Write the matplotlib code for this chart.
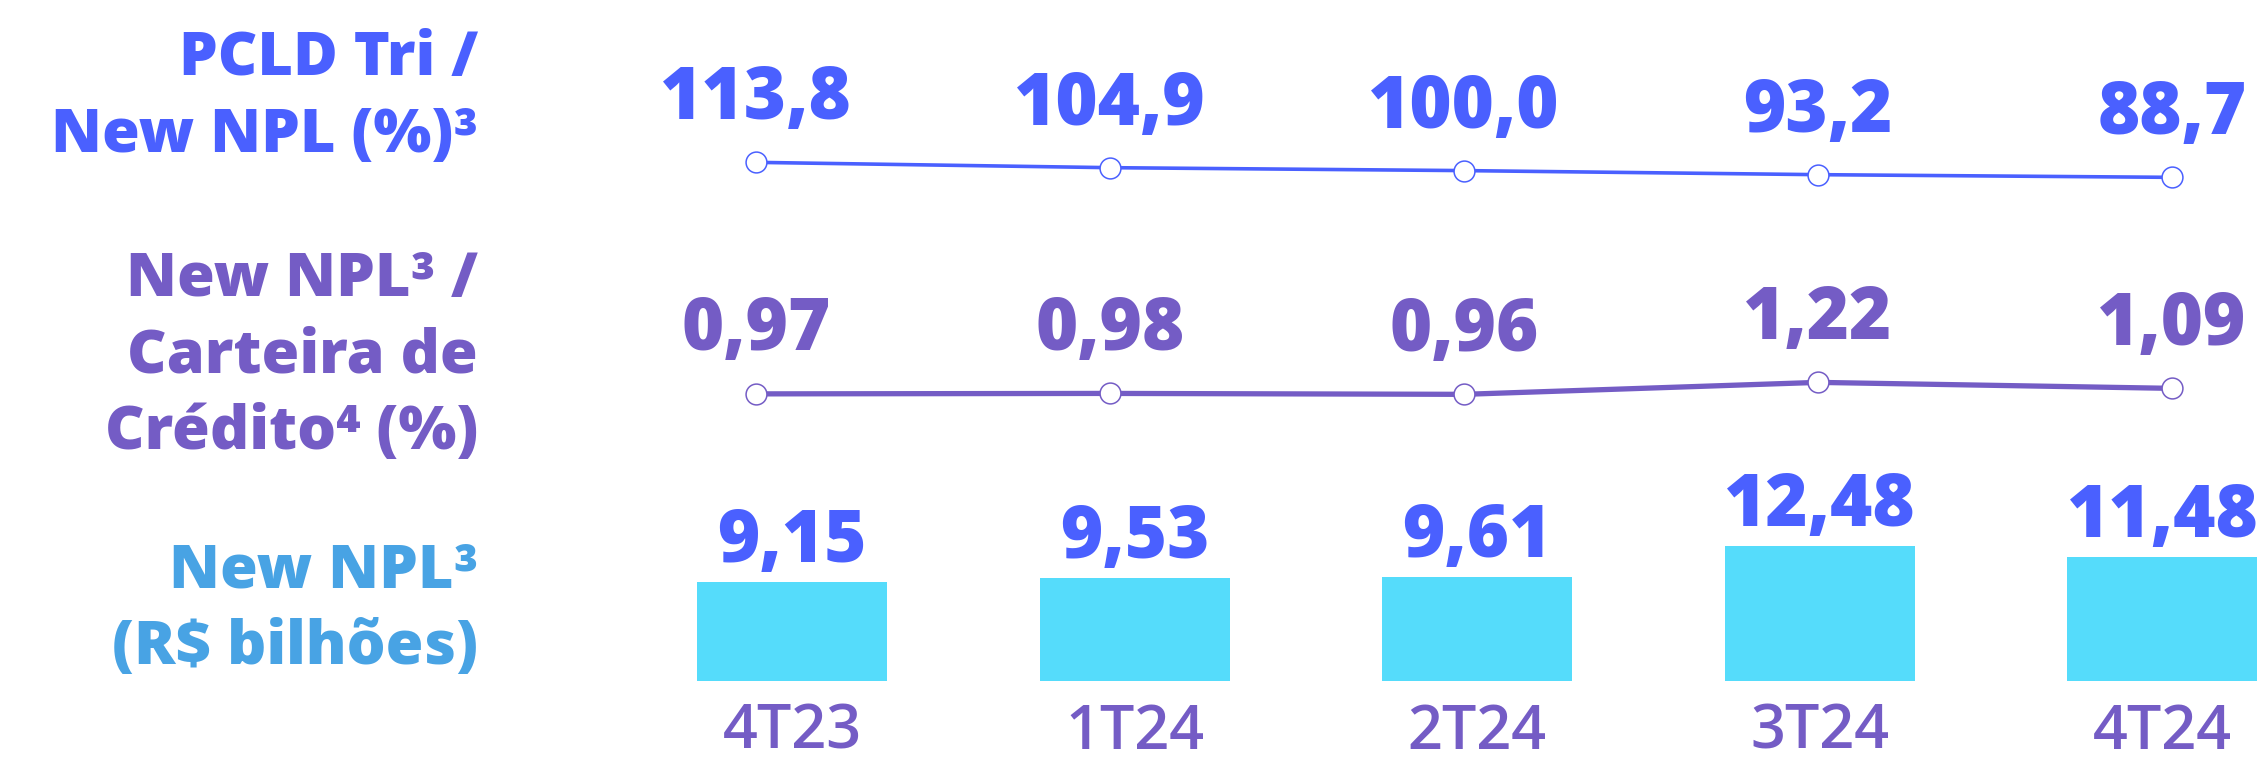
import matplotlib
matplotlib.use('Agg')
import matplotlib.pyplot as plt

# ── Data ─────────────────────────────────────────────────────────────────────
quarters = ['4T23', '1T24', '2T24', '3T24', '4T24']
pcld_new_npl = [113.8, 104.9, 100.0, 93.2, 88.7]
npl_carteira = [0.97, 0.98, 0.96, 1.22, 1.09]
new_npl_bi = [9.15, 9.53, 9.61, 12.48, 11.48]

row_titles = [
    ['PCLD Tri /', 'New NPL (%)³'],
    ['New NPL³ /', 'Carteira de', 'Crédito⁴ (%)'],
    ['New NPL³', '(R$ bilhões)'],
]

# ── Style ────────────────────────────────────────────────────────────────────
BLUE = '#4A60FF'
PURPLE = '#745CC5'
LIGHT_BLUE = '#48A3E4'
BAR = '#55DCFB'
FONT = ['Open Sans', 'DejaVu Sans']

plt.rcParams['font.family'] = FONT

W, H = 2265, 763
fig = plt.figure(figsize=(W / 100, H / 100), dpi=100)
fig.patch.set_facecolor('white')


def fmt(v, nd):
    return f'{v:.{nd}f}'.replace('.', ',')


def px_axes(left, bottom_from_top, width, height):
    # helper: pixel box -> figure fraction axes
    ax = fig.add_axes([left / W, 1 - bottom_from_top / H, width / W, height / H])
    ax.set_axis_off()
    return ax


xs = list(range(len(quarters)))

# ── Top line: PCLD / New NPL ─────────────────────────────────────────────────
ax1 = px_axes(579, 194.5, 1681.5, 47.8)
ax1.set_xlim(-0.5, 4.25)
ax1.set_ylim(60, 140)
ax1.plot(xs, pcld_new_npl, color=BLUE, lw=2.6, marker='o', ms=15,
         mfc='white', mec=BLUE, mew=1.1, clip_on=False, zorder=3)
for x, v in zip(xs, pcld_new_npl):
    ax1.annotate(fmt(v, 1), (x, v), xytext=(0, 31), textcoords='offset points',
                 ha='center', va='baseline', fontsize=52, fontweight=800,
                 color=BLUE, annotation_clip=False)

# ── Middle line: New NPL / Carteira ──────────────────────────────────────────
ax2 = px_axes(579, 401.7, 1681.5, 27.6)
ax2.set_xlim(-0.5, 4.25)
ax2.set_ylim(0.8, 1.4)
ax2.plot(xs, npl_carteira, color=PURPLE, lw=3.8, marker='o', ms=15,
         mfc='white', mec=PURPLE, mew=1.1, clip_on=False, zorder=3)
for x, v in zip(xs, npl_carteira):
    ax2.annotate(fmt(v, 2), (x, v), xytext=(0, 31.5), textcoords='offset points',
                 ha='center', va='baseline', fontsize=52, fontweight=800,
                 color=PURPLE, annotation_clip=False)

# ── Bars: New NPL R$ bi ──────────────────────────────────────────────────────
ax3 = px_axes(620.7, 680.7, 1644.5, 150.9)
ax3.set_xlim(-0.5, 4.3)
ax3.set_ylim(0, 14)
ax3.bar(xs, new_npl_bi, width=0.555, color=BAR, clip_on=False)
for x, v in zip(xs, new_npl_bi):
    ax3.annotate(fmt(v, 2), (x, v), xytext=(0, 14.4), textcoords='offset points',
                 ha='center', va='baseline', fontsize=52, fontweight=800,
                 color=BLUE, annotation_clip=False)
for x, q in zip(xs, quarters):
    ax3.annotate(q, (x, 0), xytext=(0, -49), textcoords='offset points',
                 ha='center', va='baseline', fontsize=44, fontweight='semibold',
                 color=PURPLE, annotation_clip=False)

# ── Row titles (right aligned, left column) ──────────────────────────────────
title_specs = [
    (row_titles[0], BLUE, 75),
    (row_titles[1], PURPLE, 295.7),
    (row_titles[2], LIGHT_BLUE, 587.3),
]
LINE_STEP = 76.5
for lines, col, first_baseline in title_specs:
    for i, txt in enumerate(lines):
        y = first_baseline + i * LINE_STEP
        fig.text(478 / W, 1 - y / H, txt, ha='right', va='baseline',
                 fontsize=44, fontweight=800, color=col)

fig.savefig('out.png', dpi=100, facecolor='white')
